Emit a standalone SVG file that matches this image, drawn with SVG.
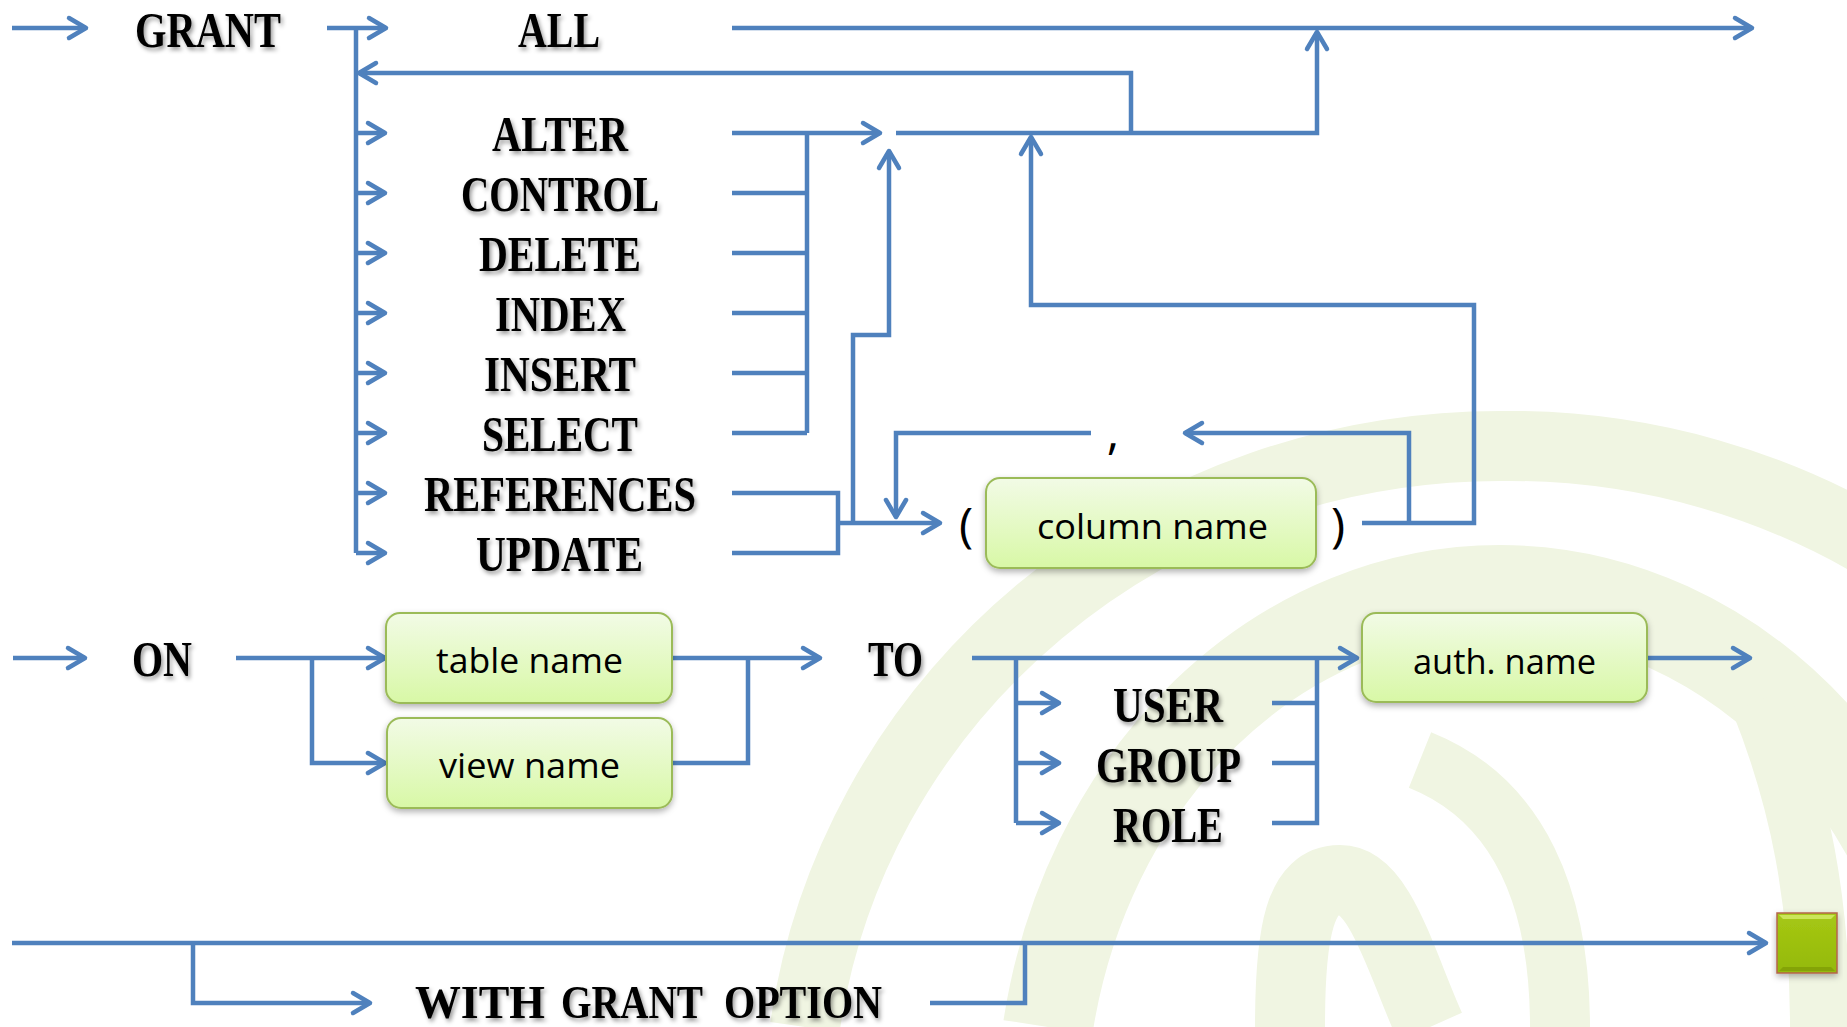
<svg xmlns="http://www.w3.org/2000/svg" width="1847" height="1027" viewBox="0 0 1847 1027">
<defs>
<style>
.ln{fill:none;stroke:#4f81bd;stroke-width:4.5;stroke-linejoin:miter}
.ar{marker-end:url(#ah)}
.kw{font-family:"Liberation Serif",serif;font-weight:bold;font-size:50px;fill:#000;filter:url(#tsh)}
.bt{font-family:"Open Sans","Liberation Sans",sans-serif;font-size:34px;fill:#000}
.pn{font-family:"Open Sans","Liberation Sans",sans-serif;font-size:48px;fill:#000;text-anchor:middle}
.box{fill:url(#bg);stroke:#9bbb59;stroke-width:2;filter:url(#bsh)}
.wm{fill:none;stroke:#f0f5e2;stroke-linecap:butt}
</style>
<marker id="ah" markerUnits="userSpaceOnUse" viewBox="-26 -14 30 28" markerWidth="30" markerHeight="28" refX="0" refY="0" orient="auto">
<path d="M-17,-10 L0,0 L-17,10" fill="none" stroke="#4f81bd" stroke-width="4.5" stroke-linejoin="round" stroke-linecap="round"/>
</marker>
<linearGradient id="bg" x1="0" y1="0" x2="0" y2="1">
<stop offset="0" stop-color="#f2fbe6"/>
<stop offset="1" stop-color="#d8f8a6"/>
</linearGradient>
<linearGradient id="sq" x1="0" y1="0" x2="0" y2="1">
<stop offset="0" stop-color="#a6c814"/>
<stop offset="1" stop-color="#94b90a"/>
</linearGradient>
<filter id="tsh" x="-10%" y="-20%" width="130%" height="160%">
<feDropShadow dx="2" dy="3" stdDeviation="2" flood-color="#000" flood-opacity="0.4"/>
</filter>
<filter id="bsh" x="-10%" y="-20%" width="120%" height="160%">
<feDropShadow dx="0" dy="3" stdDeviation="3" flood-color="#000" flood-opacity="0.3"/>
</filter>
</defs>
<rect width="1847" height="1027" fill="#fff"/>

<g id="watermark">
<path class="wm" stroke-width="70" d="M805,1027 A702,674 0 0 1 1500,446 A702,674 0 0 1 1900,560"/>
<path class="wm" stroke-width="90" d="M1048,1027 A459,530 0 0 1 1500,590 A459,530 0 0 1 1959,1120"/>
<path class="wm" stroke-width="70" d="M1290,1027 C1290,930 1300,880 1340,880 C1380,880 1400,960 1430,1027"/>
<path class="wm" stroke-width="60" d="M1560,1027 C1560,900 1520,800 1420,760 M1820,1027 C1820,900 1800,800 1760,700"/>
</g>

<g id="connectors">
<path class="ln ar" d="M12,28 H86"/>
<path class="ln ar" d="M327,28 H386"/>
<path class="ln" d="M356,28 V553"/>
<path class="ln ar" d="M356,133 H385"/>
<path class="ln ar" d="M356,193 H385"/>
<path class="ln ar" d="M356,253 H385"/>
<path class="ln ar" d="M356,313 H385"/>
<path class="ln ar" d="M356,373 H385"/>
<path class="ln ar" d="M356,433 H385"/>
<path class="ln ar" d="M356,493 H385"/>
<path class="ln ar" d="M356,553 H385"/>
<path class="ln ar" d="M1131,133 V73 H359"/>
<path class="ln ar" d="M732,28 H1752"/>
<path class="ln ar" d="M732,133 H880"/>
<path class="ln" d="M732,193 H807 M732,253 H807 M732,313 H807 M732,373 H807 M732,433 H807 M807,133 V433"/>
<path class="ln ar" d="M896,133 H1317 V32"/>
<path class="ln" d="M732,493 H838 V553 H732"/>
<path class="ln ar" d="M838,523 H940"/>
<path class="ln ar" d="M853,523 V335 H889 V151"/>
<path class="ln ar" d="M1091,433 H896 V517"/>
<path class="ln ar" d="M1409,523 V433 H1185"/>
<path class="ln ar" d="M1362,523 H1474 V305 H1031 V137"/>

<path class="ln ar" d="M13,658 H85"/>
<path class="ln ar" d="M236,658 H385"/>
<path class="ln ar" d="M312,658 V763 H385"/>
<path class="ln ar" d="M672,658 H820"/>
<path class="ln" d="M672,763 H748 V658"/>

<path class="ln ar" d="M972,658 H1357"/>
<path class="ln" d="M1016,658 V823"/>
<path class="ln ar" d="M1016,703 H1059"/>
<path class="ln ar" d="M1016,763 H1059"/>
<path class="ln ar" d="M1016,823 H1059"/>
<path class="ln" d="M1272,703 H1317 M1272,763 H1317 M1272,823 H1317 V658"/>
<path class="ln ar" d="M1647,658 H1750"/>

<path class="ln ar" d="M12,943 H1766"/>
<path class="ln ar" d="M193,943 V1003 H370"/>
<path class="ln" d="M930,1003 H1025 V943"/>
</g>

<g id="n-grant"><text class="kw" x="135" y="47" textLength="146" lengthAdjust="spacingAndGlyphs">GRANT</text></g>
<g id="n-all"><text class="kw" x="518" y="47" textLength="82" lengthAdjust="spacingAndGlyphs">ALL</text></g>
<g id="n-alter"><text class="kw" x="492" y="151" textLength="136" lengthAdjust="spacingAndGlyphs">ALTER</text></g>
<g id="n-control"><text class="kw" x="461" y="211" textLength="198" lengthAdjust="spacingAndGlyphs">CONTROL</text></g>
<g id="n-delete"><text class="kw" x="479" y="271" textLength="162" lengthAdjust="spacingAndGlyphs">DELETE</text></g>
<g id="n-index"><text class="kw" x="495" y="331" textLength="131" lengthAdjust="spacingAndGlyphs">INDEX</text></g>
<g id="n-insert"><text class="kw" x="484" y="391" textLength="152" lengthAdjust="spacingAndGlyphs">INSERT</text></g>
<g id="n-select"><text class="kw" x="482" y="451" textLength="156" lengthAdjust="spacingAndGlyphs">SELECT</text></g>
<g id="n-references"><text class="kw" x="424" y="511" textLength="272" lengthAdjust="spacingAndGlyphs">REFERENCES</text></g>
<g id="n-update"><text class="kw" x="476" y="571" textLength="167" lengthAdjust="spacingAndGlyphs">UPDATE</text></g>

<g id="n-comma"><text class="pn" x="1113" y="449">,</text></g>
<g id="n-column">
<text class="pn" x="966" y="542">(</text>
<rect class="box" x="986" y="478" width="330" height="90" rx="14"/>
<text class="bt" x="1037" y="539" textLength="231" lengthAdjust="spacingAndGlyphs">column name</text>
<text class="pn" x="1338" y="542">)</text>
</g>

<g id="n-on"><text class="kw" x="132" y="676" textLength="60" lengthAdjust="spacingAndGlyphs">ON</text></g>
<g id="n-table">
<rect class="box" x="386" y="613" width="286" height="90" rx="14"/>
<text class="bt" x="436" y="673" textLength="187" lengthAdjust="spacingAndGlyphs">table name</text>
</g>
<g id="n-view">
<rect class="box" x="387" y="718" width="285" height="90" rx="14"/>
<text class="bt" x="439" y="778" textLength="181" lengthAdjust="spacingAndGlyphs">view name</text>
</g>
<g id="n-to"><text class="kw" x="868" y="676" textLength="55" lengthAdjust="spacingAndGlyphs">TO</text></g>
<g id="n-user"><text class="kw" x="1113" y="722" textLength="110" lengthAdjust="spacingAndGlyphs">USER</text></g>
<g id="n-group"><text class="kw" x="1096" y="782" textLength="145" lengthAdjust="spacingAndGlyphs">GROUP</text></g>
<g id="n-role"><text class="kw" x="1113" y="842" textLength="110" lengthAdjust="spacingAndGlyphs">ROLE</text></g>
<g id="n-auth">
<rect class="box" x="1362" y="613" width="285" height="89" rx="14"/>
<text class="bt" x="1413" y="674" textLength="183" lengthAdjust="spacingAndGlyphs">auth. name</text>
</g>

<g id="n-with"><text class="kw" y="1018" style="font-size:46px"><tspan x="415" textLength="130" lengthAdjust="spacingAndGlyphs">WITH</tspan><tspan x="561" textLength="142" lengthAdjust="spacingAndGlyphs">GRANT</tspan><tspan x="724" textLength="158" lengthAdjust="spacingAndGlyphs">OPTION</tspan></text></g>

<g id="n-end">
<rect x="1777" y="913" width="60" height="60" fill="url(#sq)" stroke="#b5654a" stroke-width="1.5" filter="url(#bsh)"/>
<path d="M1779,915 H1835 L1831,919 H1783 Z" fill="#d4ec6a" opacity="0.8"/>
<path d="M1779,971 H1835 L1831,967 H1783 Z" fill="#7f9e06" opacity="0.8"/>
</g>
</svg>
